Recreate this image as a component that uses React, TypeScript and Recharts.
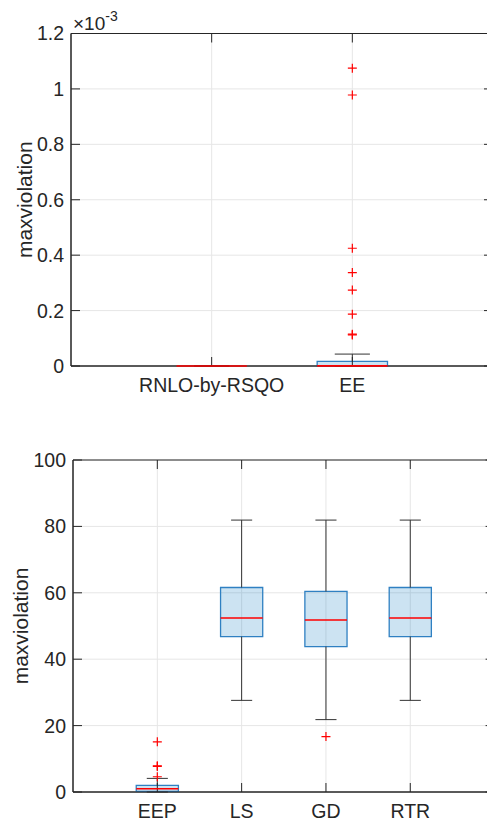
import {
  ScatterChart, Scatter, XAxis, YAxis, CartesianGrid, ReferenceArea, ReferenceLine,
} from "recharts";

// top panel: raw values, the axis shows them in units of 1e-3
const topCategories = ["RNLO-by-RSQO", "EE"];
const topLow = [0, 0];
const topQ1 = [0, 0];
const topMedian = [0, 0.0000005];
const topQ3 = [0, 0.000017];
const topHigh = [0, 0.000043];
const topOutliers = [[], [0.001075, 0.000978, 0.000425, 0.000337, 0.000274, 0.000187, 0.000115, 0.000112]];
const topTicks = [0, 0.0002, 0.0004, 0.0006, 0.0008, 0.001, 0.0012];

// bottom panel
const bottomCategories = ["EEP", "LS", "GD", "RTR"];
const bottomLow = [0, 27.6, 21.8, 27.6];
const bottomQ1 = [0.2, 46.8, 43.8, 46.8];
const bottomMedian = [1.0, 52.4, 51.8, 52.4];
const bottomQ3 = [2.0, 61.6, 60.4, 61.6];
const bottomHigh = [4.1, 81.9, 81.9, 81.9];
const bottomOutliers = [[15.1, 7.9, 7.7, 4.6], [], [16.7], []];
const bottomTicks = [0, 20, 40, 60, 80, 100];

const INK = "#262626";
const BOX_HALF = 0.25;
const CAP_HALF = 0.125;
const TICK = 9;

const Plus = ({ cx, cy }: any) => (
  <path d={`M${cx - 4.5},${cy}H${cx + 4.5}M${cx},${cy - 4.5}V${cy + 4.5}`} stroke="#ff0000" strokeWidth={1.2} fill="none" />
);

// inward tick marks on the top edge / right edge of the frame
const TopTick = ({ x1, y1, y2 }: any) => {
  const t = Math.min(y1, y2);
  return <line x1={x1} x2={x1} y1={t} y2={t + TICK} stroke={INK} />;
};
const RightTick = ({ x1, x2, y1 }: any) => {
  const r = Math.max(x1, x2);
  return <line x1={r - TICK} x2={r} y1={y1} y2={y1} stroke={INK} />;
};

interface PanelProps {
  categories: string[];
  low: number[]; q1: number[]; median: number[]; q3: number[]; high: number[];
  outliers: number[][];
  yTicks: number[];
  fmtY: (v: number) => string;
  width: number; height: number;
  margin: { top: number; right: number; bottom: number; left: number };
  yAxisWidth: number; xAxisHeight: number;
  labelX: number;
  exponent?: string;
}

function BoxPanel(p: PanelProps) {
  const xTicks = p.categories.map((_, i) => i + 1);
  const xDomain = [0, p.categories.length + 1];
  const yDomain = [p.yTicks[0], p.yTicks[p.yTicks.length - 1]];
  const points = p.outliers.flatMap((vals, i) => vals.map((y) => ({ x: i + 1, y })));

  const yLabel = (lp: any) => {
    const vb = lp.viewBox;
    const cy = vb.y + vb.height / 2;
    return (
      <g>
        <text x={p.labelX} y={cy} transform={`rotate(-90 ${p.labelX} ${cy})`} textAnchor="middle" fontSize={21} fill={INK}>
          maxviolation
        </text>
        {p.exponent && (
          <text x={vb.x + vb.width + 2} y={vb.y - 3.5} fontSize={19} fill={INK}>
            ×10<tspan dy={-9} fontSize={14}>{p.exponent}</tspan>
          </text>
        )}
      </g>
    );
  };

  return (
    <ScatterChart width={p.width} height={p.height} margin={p.margin}>
      <CartesianGrid stroke="#e6e6e6" />
      <XAxis
        type="number" dataKey="x" domain={xDomain} ticks={xTicks} interval={0}
        tickFormatter={(v: number) => p.categories[v - 1] ?? ""}
        height={p.xAxisHeight} tickSize={-TICK} tickMargin={21} stroke={INK}
        tick={{ fill: INK, fontSize: 19.5 }} allowDataOverflow
      />
      <YAxis
        type="number" dataKey="y" domain={yDomain} ticks={p.yTicks} interval={0}
        tickFormatter={p.fmtY} width={p.yAxisWidth} tickSize={-TICK} tickMargin={16} stroke={INK}
        tick={{ fill: INK, fontSize: 19.5 }} label={yLabel} allowDataOverflow
      />

      {/* frame */}
      <ReferenceArea x1={xDomain[0]} x2={xDomain[1]} y1={yDomain[0]} y2={yDomain[1]} fill="none" stroke={INK} strokeWidth={1} ifOverflow="visible" />
      {xTicks.map((x) => <ReferenceLine key={"tt" + x} x={x} shape={(sp: any) => <TopTick {...sp} />} />)}
      {p.yTicks.map((y) => <ReferenceLine key={"rt" + y} y={y} shape={(sp: any) => <RightTick {...sp} />} />)}

      {p.categories.map((c, i) => {
        const x = i + 1;
        return [
          <ReferenceLine key={c + "wl"} segment={[{ x, y: p.low[i] }, { x, y: p.q1[i] }]} stroke="#333" ifOverflow="visible" />,
          <ReferenceLine key={c + "wh"} segment={[{ x, y: p.q3[i] }, { x, y: p.high[i] }]} stroke="#333" ifOverflow="visible" />,
          <ReferenceLine key={c + "cl"} segment={[{ x: x - CAP_HALF, y: p.low[i] }, { x: x + CAP_HALF, y: p.low[i] }]} stroke="#333" ifOverflow="visible" />,
          <ReferenceLine key={c + "ch"} segment={[{ x: x - CAP_HALF, y: p.high[i] }, { x: x + CAP_HALF, y: p.high[i] }]} stroke="#333" ifOverflow="visible" />,
          <ReferenceArea key={c + "box"} x1={x - BOX_HALF} x2={x + BOX_HALF} y1={p.q1[i]} y2={p.q3[i]}
            fill="#0072BD" fillOpacity={0.2} stroke="#2f80c2" strokeWidth={1.3} strokeOpacity={1} ifOverflow="visible" />,
          <ReferenceLine key={c + "med"} segment={[{ x: x - BOX_HALF, y: p.median[i] }, { x: x + BOX_HALF, y: p.median[i] }]}
            stroke="#ff0000" strokeWidth={1.6} ifOverflow="visible" zIndex={700} />,
        ];
      })}

      <Scatter data={points} shape={(sp: any) => <Plus {...sp} />} isAnimationActive={false} />
    </ScatterChart>
  );
}

export default function App() {
  return (
    <div style={{ position: "absolute", left: 0, top: 0, width: 487, height: 822, overflow: "hidden", background: "#fff", fontFamily: "'Liberation Sans', Arial, Helvetica, sans-serif" }}>
      <div style={{ position: "absolute", left: 0, top: 0 }}>
        <BoxPanel
          categories={topCategories} low={topLow} q1={topQ1} median={topMedian} q3={topQ3} high={topHigh}
          outliers={topOutliers} yTicks={topTicks}
          fmtY={(v) => String(Math.round(v * 10000) / 10)}
          width={510} height={420} margin={{ top: 33.5, right: 17, bottom: 0, left: 0 }}
          yAxisWidth={71} xAxisHeight={54} labelX={31.5} exponent="-3"
        />
      </div>
      <div style={{ position: "absolute", left: 0, top: 420 }}>
        <BoxPanel
          categories={bottomCategories} low={bottomLow} q1={bottomQ1} median={bottomMedian} q3={bottomQ3} high={bottomHigh}
          outliers={bottomOutliers} yTicks={bottomTicks}
          fmtY={(v) => String(v)}
          width={510} height={402} margin={{ top: 40, right: 15.4, bottom: 0, left: 0 }}
          yAxisWidth={73} xAxisHeight={30} labelX={28.3}
        />
      </div>
    </div>
  );
}
